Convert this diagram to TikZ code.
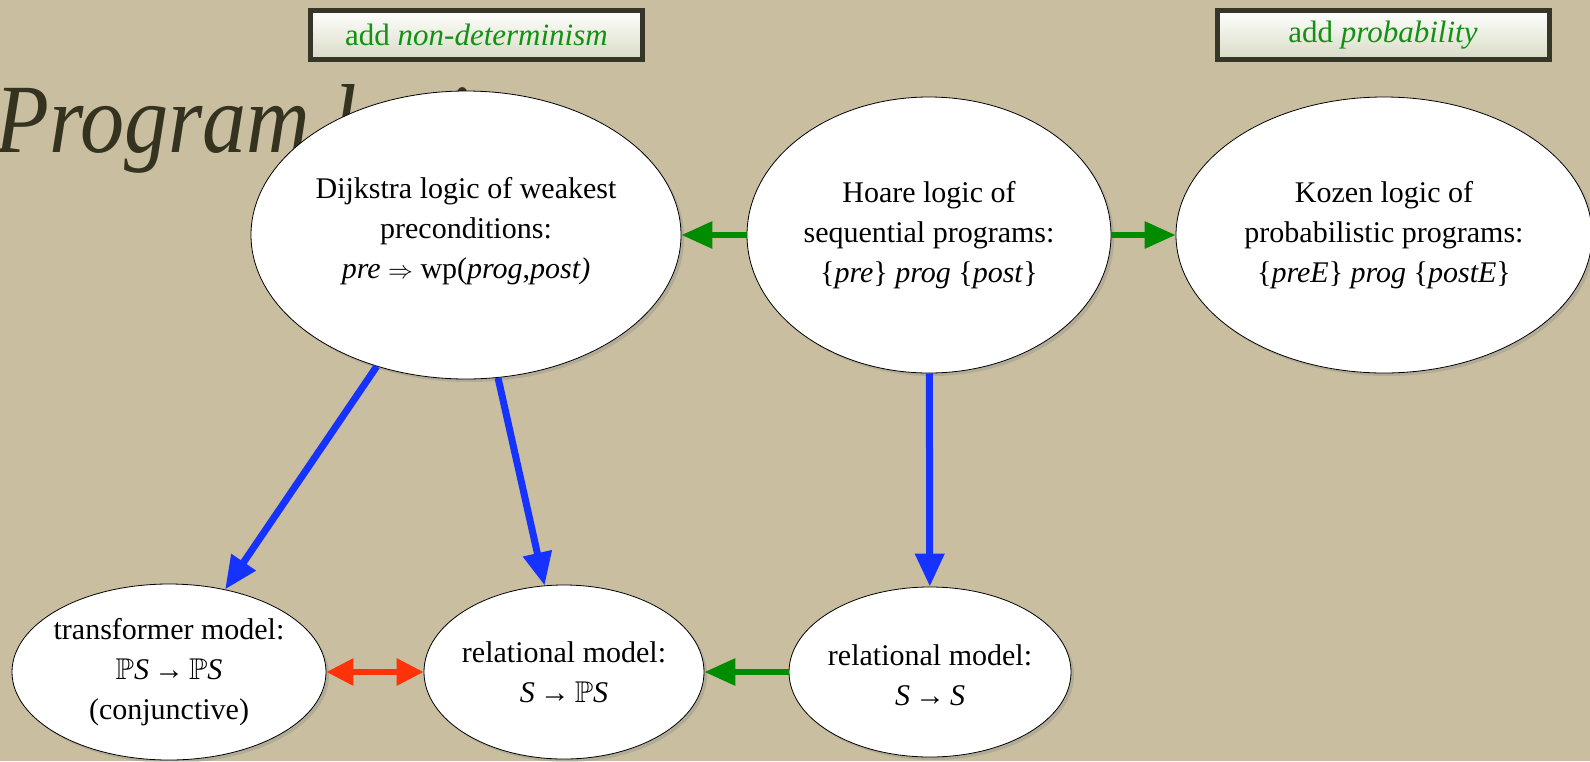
\documentclass[tikz,border=0pt]{standalone}
\usepackage{amssymb}
\usepackage{fontspec}
\setmainfont{Liberation Serif}
\usetikzlibrary{arrows.meta,shapes.geometric,shadows}

\definecolor{paper}{RGB}{201,190,160}
\definecolor{titleink}{RGB}{52,51,32}
\definecolor{boxrim}{RGB}{54,54,40}
\definecolor{boxfoot}{RGB}{216,219,196}
\definecolor{boxgreen}{RGB}{18,145,18}
\definecolor{flowblue}{RGB}{22,50,255}
\definecolor{flowgreen}{RGB}{0,140,0}
\definecolor{flowred}{RGB}{255,50,10}

% power-set symbol and italic state letter
\newcommand{\pset}{$\mathbb{P}$}
\newcommand{\stt}{\textit{S}}

\tikzset{
  logicshape/.style={ellipse, draw=black, line width=0.8pt, fill=white,
    inner sep=0pt,
    drop shadow={opacity=0.3, shadow xshift=3pt, shadow yshift=-3pt}},
  logictext/.style={align=center, inner sep=0pt,
    font=\fontsize{30}{40}\selectfont},
  tagbox/.style={draw=boxrim, line width=5pt, top color=white,
    bottom color=boxfoot, minimum width=332pt, minimum height=49pt,
    inner sep=0pt, text=boxgreen, font=\fontsize{31}{36}\selectfont},
  blueflow/.style={draw=flowblue, line width=7pt, -{Triangle[length=33pt, width=28pt]}},
  greenflow/.style={draw=flowgreen, line width=6pt, -{Triangle[length=31pt, width=26pt]}},
  redflow/.style={draw=flowred, line width=6pt,
    {Triangle[length=27pt, width=26pt]}-{Triangle[length=27pt, width=26pt]}}
}

\begin{document}
\begin{tikzpicture}[x=1pt, y=-1pt]
  % page
  \fill[paper] (0,0) rectangle (1590,761);
  \useasboundingbox (0,0) rectangle (1590,761);

  % slide title, partly hidden by the ellipses
  \node[anchor=base west, inner sep=0pt, text=titleink, xscale=0.9, transform shape,
        font=\fontsize{98}{100}\selectfont\itshape] (title) at (-5,152) {Program logic};

  % extension tags
  \node[tagbox] (tagnondet) at (476.5,35) {add \textit{non-determinism}};
  \node[tagbox] (tagprob) at (1383,35) {add \textit{probability}};

  % logics
  \node[logicshape, minimum width=430pt, minimum height=288pt] (dijkstra) at (466,235) {};
  \node[logictext] (dijkstratext) at (466,231)
    {Dijkstra logic of weakest\\ preconditions:\\
     \textit{pre} $\Rightarrow$ wp(\textit{prog},\textit{post)}};

  \node[logicshape, minimum width=364pt, minimum height=276pt] (hoare) at (929,235) {};
  \node[logictext] (hoaretext) at (929,235)
    {Hoare logic of\\ sequential programs:\\
     \{\textit{pre}\} \textit{prog} \{\textit{post}\}};

  \node[logicshape, minimum width=416pt, minimum height=276pt] (kozen) at (1384,235) {};
  \node[logictext] (kozentext) at (1384,235)
    {Kozen logic of\\ probabilistic programs:\\
     \{\textit{preE}\} \textit{prog} \{\textit{postE}\}};

  % models
  \node[logicshape, minimum width=314pt, minimum height=176pt] (transformer) at (169,672) {};
  \node[logictext] (transformertext) at (169,672)
    {transformer model:\\ \pset\stt\,→\,\pset\stt\\ (conjunctive)};

  \node[logicshape, minimum width=280pt, minimum height=174pt] (relpower) at (564,672) {};
  \node[logictext] (relpowertext) at (564,672)
    {relational model:\\ \stt\,→\,\pset\stt};

  \node[logicshape, minimum width=282pt, minimum height=170pt] (relplain) at (930,672) {};
  \node[logictext] (relplaintext) at (930,675)
    {relational model:\\ \stt\,→\,\stt};

  % connectors
  \draw[greenflow] (hoare) -- (dijkstra);
  \draw[greenflow] (hoare) -- (kozen);
  \draw[blueflow] (dijkstra) -- (transformer);
  \draw[blueflow] (dijkstra) -- (relpower);
  \draw[blueflow] (hoare) -- (relplain);
  \draw[greenflow] (relplain) -- (relpower);
  \draw[redflow] (transformer) -- (relpower);
\end{tikzpicture}
\end{document}
